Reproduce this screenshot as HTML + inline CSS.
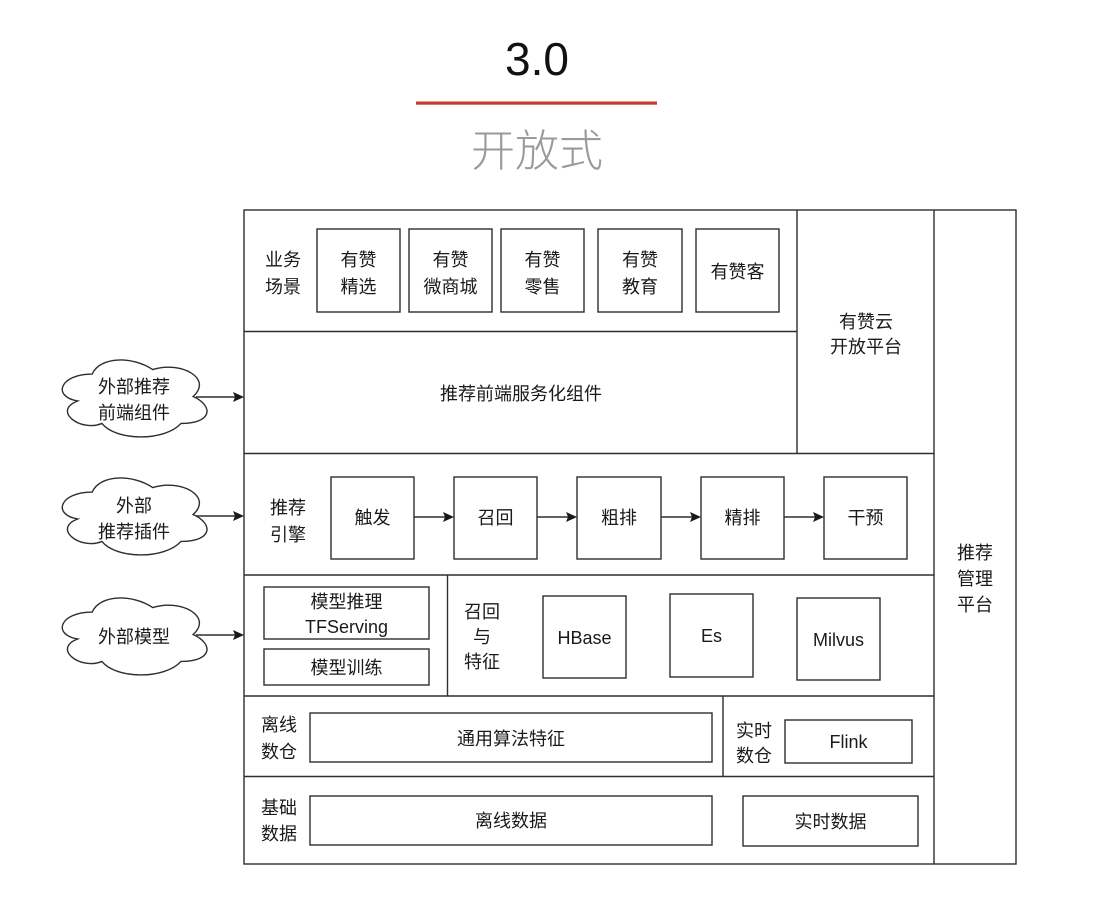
<!DOCTYPE html>
<html>
<head>
<meta charset="utf-8">
<style>
  html,body{margin:0;padding:0;background:#fff;}
  body{width:1098px;height:914px;overflow:hidden;}
  svg{display:block;}
  text{font-family:"Liberation Sans","Noto Sans CJK SC",sans-serif;fill:#1a1a1a;font-size:18px;}
  .c{text-anchor:middle;dominant-baseline:central;}
</style>
</head>
<body>
<svg width="1098" height="914" viewBox="0 0 1098 914" xmlns="http://www.w3.org/2000/svg">
  <rect x="0" y="0" width="1098" height="914" fill="#fff"/>

  <!-- Title -->
  <text x="537" y="75" text-anchor="middle" style="font-size:46px;fill:#111;font-family:'Liberation Sans',sans-serif;">3.0</text>
  <rect x="416" y="101.5" width="241" height="3.2" fill="#c63b2e"/>
  <text x="537" y="166" text-anchor="middle" style="font-size:44px;fill:#9a9a9a;font-weight:300;font-family:'Noto Sans CJK SC','Liberation Sans',sans-serif;">开放式</text>

  <g fill="none" stroke="#2e2e2e" stroke-width="1.4">
    <!-- Outer frame -->
    <rect x="244" y="210" width="772" height="654"/>
    <line x1="934" y1="210" x2="934" y2="864"/>
    <line x1="797" y1="210" x2="797" y2="453.5"/>
    <line x1="244" y1="331.5" x2="797" y2="331.5"/>
    <line x1="244" y1="453.5" x2="934" y2="453.5"/>
    <line x1="244" y1="575" x2="934" y2="575"/>
    <line x1="244" y1="696" x2="934" y2="696"/>
    <line x1="244" y1="776.5" x2="934" y2="776.5"/>
    <line x1="447.5" y1="575" x2="447.5" y2="696"/>
    <line x1="723" y1="696" x2="723" y2="776.5"/>

    <!-- Row 1 boxes -->
    <rect x="317" y="229" width="83" height="83"/>
    <rect x="409" y="229" width="83" height="83"/>
    <rect x="501" y="229" width="83" height="83"/>
    <rect x="598" y="229" width="84" height="83"/>
    <rect x="696" y="229" width="83" height="83"/>

    <!-- Engine boxes -->
    <rect x="331" y="477" width="83" height="82"/>
    <rect x="454" y="477" width="83" height="82"/>
    <rect x="577" y="477" width="84" height="82"/>
    <rect x="701" y="477" width="83" height="82"/>
    <rect x="824" y="477" width="83" height="82"/>

    <!-- Engine arrows lines -->
    <line x1="414" y1="517" x2="446" y2="517"/>
    <line x1="537" y1="517" x2="569" y2="517"/>
    <line x1="661" y1="517" x2="693" y2="517"/>
    <line x1="784" y1="517" x2="816" y2="517"/>

    <!-- Model boxes -->
    <rect x="264" y="587" width="165" height="52"/>
    <rect x="264" y="649" width="165" height="36"/>

    <!-- Recall/feature boxes -->
    <rect x="543" y="596" width="83" height="82"/>
    <rect x="670" y="594" width="83" height="83"/>
    <rect x="797" y="598" width="83" height="82"/>

    <!-- Offline warehouse -->
    <rect x="310" y="713" width="402" height="49"/>
    <rect x="785" y="720" width="127" height="43"/>

    <!-- Base data -->
    <rect x="310" y="796" width="402" height="49"/>
    <rect x="743" y="796" width="175" height="50"/>

    <!-- Clouds -->
    <g transform="translate(51.8,351.6) scale(161.5,89.8)">
      <path vector-effect="non-scaling-stroke" d="M0.25 0.25 C0.05 0.25 0 0.5 0.16 0.55 C0 0.66 0.18 0.9 0.31 0.8 C0.4 1 0.7 1 0.8 0.8 C1 0.8 1 0.6 0.875 0.5 C1 0.3 0.8 0.1 0.625 0.2 C0.5 0.05 0.3 0.05 0.25 0.25 Z"/>
    </g>
    <g transform="translate(51.8,469.6) scale(161.5,89.8)">
      <path vector-effect="non-scaling-stroke" d="M0.25 0.25 C0.05 0.25 0 0.5 0.16 0.55 C0 0.66 0.18 0.9 0.31 0.8 C0.4 1 0.7 1 0.8 0.8 C1 0.8 1 0.6 0.875 0.5 C1 0.3 0.8 0.1 0.625 0.2 C0.5 0.05 0.3 0.05 0.25 0.25 Z"/>
    </g>
    <g transform="translate(51.8,589.6) scale(161.5,89.8)">
      <path vector-effect="non-scaling-stroke" d="M0.25 0.25 C0.05 0.25 0 0.5 0.16 0.55 C0 0.66 0.18 0.9 0.31 0.8 C0.4 1 0.7 1 0.8 0.8 C1 0.8 1 0.6 0.875 0.5 C1 0.3 0.8 0.1 0.625 0.2 C0.5 0.05 0.3 0.05 0.25 0.25 Z"/>
    </g>

    <!-- Cloud arrows lines -->
    <line x1="196" y1="397" x2="236" y2="397"/>
    <line x1="196" y1="516" x2="236" y2="516"/>
    <line x1="196" y1="635" x2="236" y2="635"/>
  </g>

  <!-- Arrowheads -->
  <g fill="#1a1a1a">
    <polygon points="454,517 443,512 445,517 443,522"/>
    <polygon points="577,517 566,512 568,517 566,522"/>
    <polygon points="701,517 690,512 692,517 690,522"/>
    <polygon points="824,517 813,512 815,517 813,522"/>
    <polygon points="244,397 233,392 235,397 233,402"/>
    <polygon points="244,516 233,511 235,516 233,521"/>
    <polygon points="244,635 233,630 235,635 233,640"/>
  </g>

  <!-- Row 1 texts -->
  <text class="c" x="283" y="260">业务</text>
  <text class="c" x="283" y="287">场景</text>
  <text class="c" x="358.5" y="260">有赞</text>
  <text class="c" x="358.5" y="287">精选</text>
  <text class="c" x="450.5" y="260">有赞</text>
  <text class="c" x="450.5" y="287">微商城</text>
  <text class="c" x="542.5" y="260">有赞</text>
  <text class="c" x="542.5" y="287">零售</text>
  <text class="c" x="640" y="260">有赞</text>
  <text class="c" x="640" y="287">教育</text>
  <text class="c" x="737.5" y="272">有赞客</text>

  <text class="c" x="866" y="322">有赞云</text>
  <text class="c" x="866" y="347">开放平台</text>

  <text class="c" x="521" y="394">推荐前端服务化组件</text>

  <!-- Engine -->
  <text class="c" x="288" y="508">推荐</text>
  <text class="c" x="288" y="535">引擎</text>
  <text class="c" x="372.5" y="518">触发</text>
  <text class="c" x="495.5" y="518">召回</text>
  <text class="c" x="619" y="518">粗排</text>
  <text class="c" x="742.5" y="518">精排</text>
  <text class="c" x="865.5" y="518">干预</text>

  <!-- Model -->
  <text class="c" x="346.5" y="602">模型推理</text>
  <text class="c" x="346.5" y="627">TFServing</text>
  <text class="c" x="346.5" y="668">模型训练</text>

  <text class="c" x="482" y="612">召回</text>
  <text class="c" x="482" y="637">与</text>
  <text class="c" x="482" y="662">特征</text>
  <text class="c" x="584.5" y="638">HBase</text>
  <text class="c" x="711.5" y="636">Es</text>
  <text class="c" x="838.5" y="640">Milvus</text>

  <!-- Offline warehouse -->
  <text class="c" x="279" y="725">离线</text>
  <text class="c" x="279" y="752">数仓</text>
  <text class="c" x="511" y="739">通用算法特征</text>
  <text class="c" x="754" y="731">实时</text>
  <text class="c" x="754" y="756">数仓</text>
  <text class="c" x="848.5" y="742">Flink</text>

  <!-- Base data -->
  <text class="c" x="279" y="808">基础</text>
  <text class="c" x="279" y="834">数据</text>
  <text class="c" x="511" y="821">离线数据</text>
  <text class="c" x="830.5" y="822">实时数据</text>

  <!-- Management -->
  <text class="c" x="975" y="553">推荐</text>
  <text class="c" x="975" y="579">管理</text>
  <text class="c" x="975" y="605">平台</text>

  <!-- Cloud texts -->
  <text class="c" x="134" y="387">外部推荐</text>
  <text class="c" x="134" y="413">前端组件</text>
  <text class="c" x="134" y="506">外部</text>
  <text class="c" x="134" y="532">推荐插件</text>
  <text class="c" x="134" y="637">外部模型</text>
</svg>
</body>
</html>
